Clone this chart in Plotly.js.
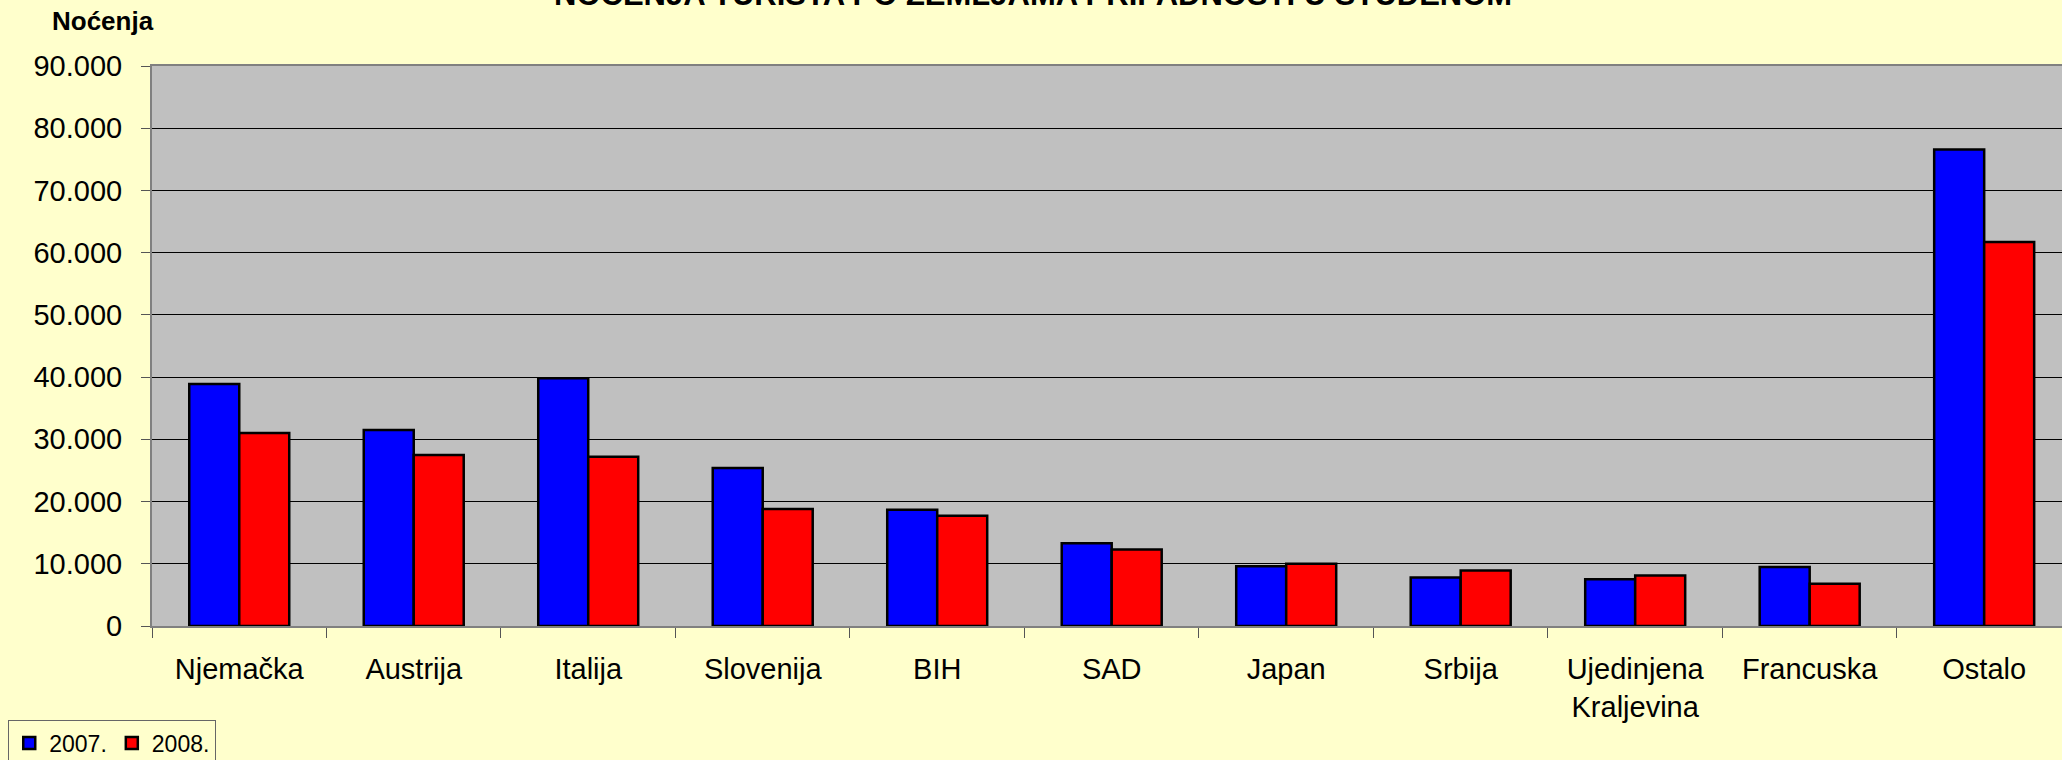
<!DOCTYPE html>
<html>
<head>
<meta charset="utf-8">
<script src="https://cdn.plot.ly/plotly-3.0.1.min.js"></script>
<style>
html,body{margin:0;padding:0;background:#FFFFCC;}
#chart{width:2062px;height:760px;}
</style>
</head>
<body>
<div id="chart"></div>
<script>
var categories = ["Njemačka", "Austrija", "Italija", "Slovenija", "BIH", "SAD", "Japan", "Srbija", "Ujedinjena<br>Kraljevina", "Francuska", "Ostalo"];
var values2007 = [38900, 31500, 39800, 25400, 18700, 13300, 9600, 7800, 7500, 9500, 76600];
var values2008 = [31000, 27500, 27200, 18800, 17700, 12300, 10000, 8900, 8100, 6800, 61700];
var seriesNames = ["2007.", "2008."];
var yTickVals = [0, 10000, 20000, 30000, 40000, 50000, 60000, 70000, 80000, 90000];
var yTickLabels = ["0", "10.000", "20.000", "30.000", "40.000", "50.000", "60.000", "70.000", "80.000", "90.000"];
var chartTitle = "NOĆENJA TURISTA PO ZEMLJAMA PRIPADNOSTI U STUDENOM";
var yTitle = "Noćenja";

var FONT = "Liberation Sans, Arial, sans-serif";

var traces = [
  {type: "bar", name: seriesNames[0], x: categories, y: values2007,
   marker: {color: "#0000FF", line: {color: "#000000", width: 2.5}}},
  {type: "bar", name: seriesNames[1], x: categories, y: values2008,
   marker: {color: "#FF0000", line: {color: "#000000", width: 2.5}}}
];

var layout = {
  width: 2062, height: 760,
  paper_bgcolor: "#FFFFCC",
  plot_bgcolor: "#C0C0C0",
  margin: {l: 152, r: 0, t: 66, b: 134, pad: 0},
  font: {family: FONT, color: "#000000", size: 29},
  barmode: "group",
  bargap: 0.427,
  bargroupgap: 0,
  showlegend: true,
  legend: {
    orientation: "h",
    xref: "container", yref: "container",
    x: 0.004, y: 0.052, xanchor: "left", yanchor: "top",
    bgcolor: "#FFFFCC", bordercolor: "#666666", borderwidth: 1,
    font: {family: FONT, size: 23, color: "#000000"},
    traceorder: "normal",
    itemwidth: 30
  },
  xaxis: {
    type: "category",
    range: [-0.5, 10.446],
    showgrid: false,
    showline: true, linecolor: "#808080", linewidth: 2, mirror: true,
    ticks: "outside", ticklen: 10, tickcolor: "#555555", tickwidth: 1,
    tickson: "boundaries",
    tickfont: {family: FONT, size: 29, color: "#000000"},
    ticklabelstandoff: 16,
    zeroline: false, fixedrange: true
  },
  yaxis: {
    range: [0, 90000],
    tickvals: yTickVals, ticktext: yTickLabels,
    showgrid: true, gridcolor: "#000000", gridwidth: 1,
    showline: true, linecolor: "#808080", linewidth: 2,
    ticks: "outside", ticklen: 9, tickcolor: "#555555", tickwidth: 1,
    tickfont: {family: FONT, size: 29, color: "#000000"},
    ticklabelstandoff: 13,
    zeroline: false, fixedrange: true
  },
  annotations: [
    {text: "<b>" + chartTitle + "</b>", xref: "paper", yref: "paper",
     x: 0.4615, y: 1.093, xanchor: "center", yanchor: "bottom", showarrow: false,
     font: {family: FONT, size: 31, color: "#000000"}},
    {text: "<b>" + yTitle + "</b>", xref: "paper", yref: "paper",
     x: -0.0535, y: 1.05, xanchor: "left", yanchor: "bottom", showarrow: false,
     font: {family: FONT, size: 26, color: "#000000"}}
  ]
};

Plotly.newPlot("chart", traces, layout, {displayModeBar: false, staticPlot: true});
</script>
</body>
</html>
